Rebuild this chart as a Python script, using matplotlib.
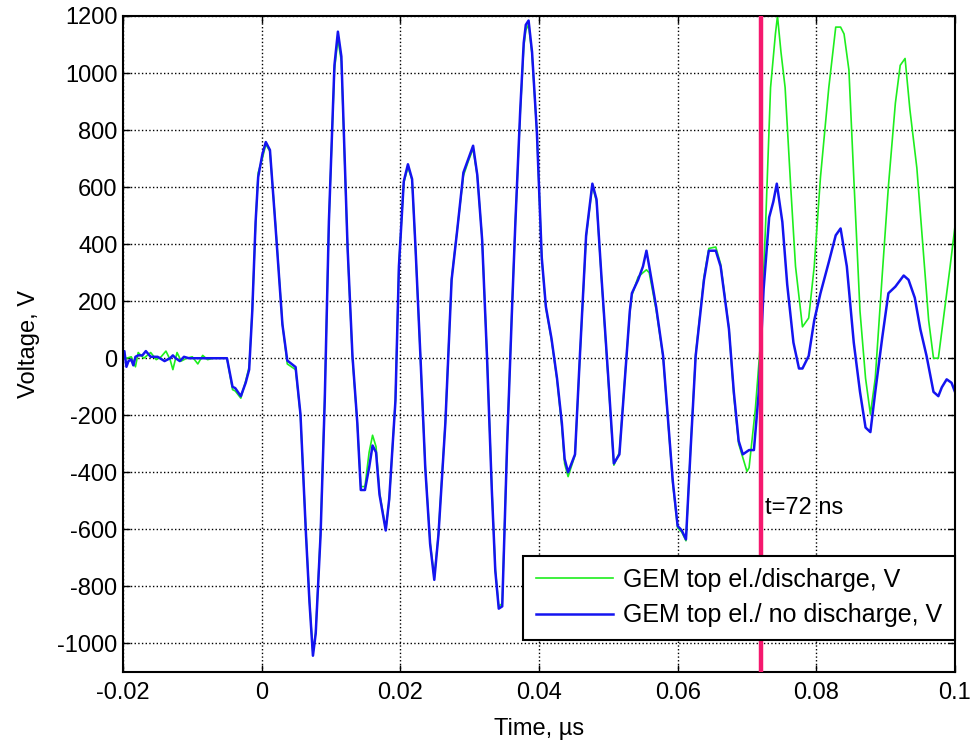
import matplotlib as mpl
import matplotlib.pyplot as plt

mpl.rcParams["font.family"] = ["Liberation Sans", "DejaVu Sans"]
mpl.rcParams["axes.unicode_minus"] = False
mpl.rcParams["xtick.top"] = mpl.rcParams["ytick.right"] = True
mpl.rcParams["xtick.direction"] = mpl.rcParams["ytick.direction"] = "in"

# GEM top electrode, no discharge (blue)
t_nodis = [
	-0.0200, -0.0198, -0.0195, -0.0192, -0.0188, -0.0185, -0.0182, -0.0178,
	-0.0172, -0.0167, -0.0160, -0.0150, -0.0140, -0.0132, -0.0128, -0.0124,
	-0.0118, -0.0112, -0.0105, -0.0097, -0.0090, -0.0080, -0.0070, -0.0060,
	-0.0050, -0.0042, -0.0038, -0.0030, -0.0023, -0.0018, -0.00135, -0.00087,
	-0.0005, 0.0001, 0.0006, 0.0012, 0.0020, 0.0030, 0.0037, 0.0049,
	0.0056, 0.0064, 0.0069, 0.0074, 0.0078, 0.0085, 0.0091, 0.0097,
	0.0105, 0.0110, 0.0115, 0.0124, 0.0131, 0.0138, 0.0143, 0.0149,
	0.0155, 0.0160, 0.0165, 0.0170, 0.0179, 0.0184, 0.0191, 0.0193,
	0.0198, 0.0205, 0.0211, 0.0217, 0.0222, 0.0229, 0.0236, 0.0243,
	0.0249, 0.0255, 0.0265, 0.0274, 0.0282, 0.0291, 0.0298, 0.0305,
	0.0311, 0.0318, 0.0325, 0.0332, 0.0337, 0.0342, 0.0347, 0.0354,
	0.0361, 0.0366, 0.0373, 0.0378, 0.0381, 0.0385, 0.0390, 0.0397,
	0.0404, 0.0410, 0.0418, 0.0426, 0.0433, 0.0437, 0.0442, 0.0452,
	0.0459, 0.0468, 0.0477, 0.0483, 0.0490, 0.0500, 0.0508, 0.0516,
	0.0524, 0.0531, 0.0534, 0.0543, 0.0550, 0.0555, 0.0559, 0.0569,
	0.0579, 0.0587, 0.0593, 0.0600, 0.0606, 0.0612, 0.0619, 0.0626,
	0.0638, 0.0645, 0.0655, 0.0662, 0.0674, 0.0681, 0.0688, 0.0694,
	0.0703, 0.0710, 0.0717, 0.0724, 0.0732, 0.0738, 0.0743, 0.0751,
	0.0758, 0.0767, 0.0775, 0.0780, 0.0789, 0.0797, 0.0806, 0.0818,
	0.0828, 0.0835, 0.0844, 0.0854, 0.0863, 0.0871, 0.0878, 0.0885,
	0.0895, 0.0904, 0.0914, 0.0926, 0.0933, 0.0942, 0.0950, 0.0959,
	0.0969, 0.0976, 0.0981, 0.0988, 0.0995, 0.1000,
]
v_nodis = [
	20, 25, -30, -10, -5, -25, 5, 10,
	10, 25, 5, 5, -10, 0, 10, 0,
	-10, 5, 0, 0, 0, 0, 0, 0,
	0, -100, -105, -133, -86, -40, 165, 478,
	635, 714, 758, 730, 463, 118, -8, -31,
	-196, -620, -855, -1043, -965, -620, -150, 478,
	1027, 1145, 1058, 385, 8, -227, -462, -462,
	-384, -306, -330, -478, -604, -494, -227, -149,
	322, 620, 680, 628, 384, 8, -384, -651,
	-777, -620, -227, 275, 447, 651, 698, 745,
	643, 416, 8, -463, -745, -878, -870, -306,
	165, 478, 871, 1106, 1169, 1184, 1074, 792,
	353, 180, 70, -70, -227, -353, -400, -337,
	8, 431, 612, 557, 290, -70, -369, -337,
	-70, 165, 228, 275, 322, 377, 322, 180,
	8, -243, -431, -588, -604, -635, -306, 8,
	275, 377, 377, 322, 102, -118, -290, -337,
	-322, -322, -118, 243, 494, 549, 612, 478,
	259, 55, -36, -36, 8, 133, 228, 337,
	431, 455, 322, 55, -118, -243, -259, -118,
	71, 228, 251, 290, 275, 212, 102, 8,
	-118, -133, -102, -74, -86, -118,
]

# GEM top electrode, with discharge (green)
t_dis = [
	-0.0200, -0.0195, -0.0188, -0.0182, -0.0178, -0.0170, -0.0160, -0.0152,
	-0.0145, -0.0138, -0.0132, -0.0128, -0.0122, -0.0116, -0.0108, -0.0100,
	-0.0092, -0.0085, -0.0078, -0.0070, -0.0060, -0.0050, -0.0042, -0.0038,
	-0.0030, -0.0023, -0.0018, -0.00135, -0.00087, -0.0005, 0.0001, 0.0006,
	0.0012, 0.0020, 0.0030, 0.0037, 0.0049, 0.0056, 0.0064, 0.0069,
	0.0074, 0.0078, 0.0085, 0.0091, 0.0097, 0.0105, 0.0110, 0.0115,
	0.0124, 0.0131, 0.0138, 0.0143, 0.0149, 0.0155, 0.0160, 0.0165,
	0.0170, 0.0179, 0.0184, 0.0191, 0.0193, 0.0198, 0.0205, 0.0211,
	0.0217, 0.0222, 0.0229, 0.0236, 0.0243, 0.0249, 0.0255, 0.0265,
	0.0274, 0.0282, 0.0291, 0.0298, 0.0305, 0.0311, 0.0318, 0.0325,
	0.0332, 0.0337, 0.0342, 0.0347, 0.0354, 0.0361, 0.0366, 0.0373,
	0.0378, 0.0381, 0.0385, 0.0390, 0.0397, 0.0404, 0.0410, 0.0418,
	0.0426, 0.0433, 0.0437, 0.0442, 0.0452, 0.0459, 0.0468, 0.0477,
	0.0483, 0.0490, 0.0500, 0.0508, 0.0516, 0.0524, 0.0531, 0.0534,
	0.0543, 0.0550, 0.0555, 0.0559, 0.0569, 0.0579, 0.0587, 0.0593,
	0.0600, 0.0606, 0.0612, 0.0619, 0.0626, 0.0638, 0.0645, 0.0655,
	0.0662, 0.0674, 0.0681, 0.0688, 0.0700, 0.0703, 0.0712, 0.0720,
	0.0727, 0.0734, 0.0741, 0.0744, 0.0749, 0.0755, 0.0763, 0.0770,
	0.0780, 0.0789, 0.0797, 0.0806, 0.0818, 0.0828, 0.0835, 0.0840,
	0.0847, 0.0854, 0.0863, 0.0871, 0.0878, 0.0885, 0.0895, 0.0904,
	0.0914, 0.0921, 0.0928, 0.0935, 0.0945, 0.0952, 0.0962, 0.0969,
	0.0976, 0.0983, 0.0993, 0.1000,
]
v_dis = [
	0, 0, 5, -30, 20, 0, 20, -5,
	5, 25, -5, -40, 20, -10, 0, 5,
	-20, 10, -5, 0, 0, 0, -110, -115,
	-140, -80, -30, 170, 470, 650, 700, 750,
	725, 470, 120, -20, -40, -200, -615, -850,
	-1035, -960, -610, -140, 480, 1010, 1120, 1040,
	380, 0, -230, -450, -450, -330, -270, -310,
	-470, -600, -500, -225, -140, 330, 615, 670,
	625, 380, 5, -380, -645, -770, -615, -220,
	280, 450, 640, 690, 735, 640, 420, 10,
	-455, -740, -870, -860, -300, 170, 480, 860,
	1090, 1150, 1170, 1065, 790, 350, 175, 65,
	-75, -240, -370, -415, -340, 5, 425, 605,
	550, 285, -80, -375, -330, -65, 160, 220,
	285, 300, 310, 300, 170, 5, -250, -440,
	-595, -610, -640, -300, 15, 285, 385, 390,
	330, 105, -130, -300, -397, -384, -180, 71,
	478, 949, 1137, 1200, 1074, 949, 604, 322,
	110, 141, 322, 635, 949, 1161, 1161, 1137,
	1011, 635, 165, -70, -196, -70, 290, 604,
	894, 1027, 1051, 871, 667, 447, 133, 0,
	0, 133, 322, 463,
]

t_mark = 0.072
x_ticks = [-0.02, 0, 0.02, 0.04, 0.06, 0.08, 0.1]
x_ticklabels = ["-0.02", "0", "0.02", "0.04", "0.06", "0.08", "0.1"]
y_ticks = list(range(-1000, 1201, 200))


def main():
	fig = plt.figure(figsize=(9.72, 7.43), dpi=100)
	ax = fig.add_axes([0.1265, 0.0956, 0.856, 0.8829])

	ax.plot(t_dis, v_dis, color="#1eee1e", lw=1.2, label="GEM top el./discharge, V")
	ax.plot(t_nodis, v_nodis, color="#1414f0", lw=1.8, label="GEM top el./ no discharge, V")
	ax.axvline(t_mark, color="#f5186e", lw=3.2, zorder=3)
	ax.text(t_mark + 0.0006, -525, "t=72 ns", fontsize=17, va="center")

	ax.set_xlim(-0.02, 0.1)
	ax.set_ylim(-1100, 1200)
	ax.set_xticks(x_ticks)
	ax.set_xticklabels(x_ticklabels)
	ax.set_yticks(y_ticks)
	ax.tick_params(labelsize=17, length=5, width=1)
	ax.tick_params(axis="x", pad=7)
	ax.tick_params(axis="y", pad=4)
	ax.set_xlabel("Time, \u00b5s", fontsize=17, labelpad=10)
	ax.set_ylabel("Voltage, V", fontsize=17, labelpad=12)

	for sp in ax.spines.values():
		sp.set_linewidth(1.5)
	ax.grid(True, color="black", ls=":", lw=1.0)
	ax.set_axisbelow(True)

	leg = ax.legend(loc="lower right", bbox_to_anchor=(1.0, 0.049), fontsize=18,
		fancybox=False, framealpha=1, edgecolor="black", borderpad=0.5,
		handlelength=3.1, handletextpad=0.4, labelspacing=0.45, borderaxespad=0)
	leg.get_frame().set_linewidth(1.5)

	plt.savefig("out.png")


if __name__ == "__main__":
	main()
